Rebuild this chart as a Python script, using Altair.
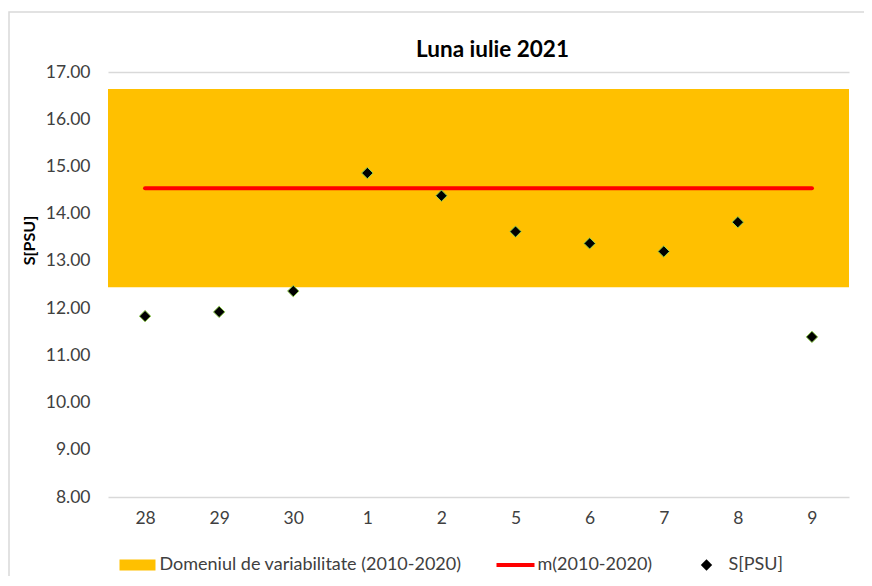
import altair as alt
import pandas as pd

# ---- data ----
days = ["28", "29", "30", "1", "2", "5", "6", "7", "8", "9"]
salinity = [11.83, 11.92, 12.36, 14.86, 14.38, 13.62, 13.37, 13.20, 13.82, 11.39]
mean_2010_2020 = [14.54, 14.54, 14.54, 14.54, 14.54, 14.54, 14.54, 14.54, 14.54, 14.54]
band_low = [12.44]
band_high = [16.64]

series_names = ["Domeniul de variabilitate (2010-2020)", "m(2010-2020)", "S[PSU]"]
series_colors = ["#FFC000", "#FF0000", "#000000"]
series_shapes = [
    "M-0.947,-0.29H0.947V0.29H-0.947Z",
    "M-1,-0.105H1V0.105H-1Z",
    "M0,-0.3L0.3,0L0,0.3L-0.3,0Z",
]

FONT = "Lato"

df = pd.DataFrame({"day": days, "s": salinity, "mean": mean_2010_2020, "series": "S[PSU]"})
band_df = pd.DataFrame({"lo": band_low, "hi": band_high})

y_scale = alt.Scale(domain=[8, 17], nice=False, zero=False)
x_enc = alt.X(
    "day:N",
    sort=days,
    scale=alt.Scale(padding=0.5),
    axis=alt.Axis(
        title=None, ticks=False, domain=False, labelAngle=0, grid=False,
        labelFont=FONT, labelFontSize=17.5, labelColor="#404040", labelPadding=12,
    ),
)

frame = alt.Chart(alt.Data(values=[{"f": 1}])).mark_rect(
    fillOpacity=0, stroke="#d9d9d9", strokeWidth=1.5
).encode(
    x=alt.value(-99), x2=alt.value(800), y=alt.value(-60), y2=alt.value(560)
)

band = alt.Chart(band_df).mark_rect(color="#FFC000").encode(
    y=alt.Y(
        "lo:Q",
        scale=y_scale,
        axis=alt.Axis(
            values=list(range(8, 18)), format=".2f", ticks=False, domain=False,
            grid=True, gridColor="#d9d9d9", gridWidth=1.5,
            gridOpacity={"condition": {"test": "datum.value == 17 || datum.value == 8", "value": 1}, "value": 0},
            labelFont=FONT, labelFontSize=17.5, labelColor="#404040", labelPadding=18,
            title="S[PSU]", titleFont=FONT, titleFontSize=16, titleFontWeight="bold",
            titleColor="#000000", titleX=-79, titleY=168, titleAngle=270,
            titleAlign="center", titleBaseline="middle",
        ),
    ),
    y2="hi:Q",
)

mean_line = alt.Chart(df).mark_line(
    color="#FF0000", strokeWidth=4, strokeCap="round"
).encode(x=x_enc, y=alt.Y("mean:Q", scale=y_scale))

points = alt.Chart(df).mark_point(
    filled=True, size=1444, stroke="#92D050", strokeWidth=1, opacity=1
).encode(
    x=x_enc,
    y=alt.Y("s:Q", scale=y_scale),
    color=alt.Color(
        "series:N",
        scale=alt.Scale(domain=series_names, range=series_colors),
        title=None,
        legend=alt.Legend(
            orient="none", legendX=10.5, legendY=474, direction="horizontal",
            symbolSize=1444, labelFont=FONT, labelFontSize=18, labelColor="#404040",
            labelOffset=3, columnPadding=35, padding=0, symbolStrokeWidth=0,
            labelLimit=500,
        ),
    ),
    shape=alt.Shape(
        "series:N",
        scale=alt.Scale(domain=series_names, range=series_shapes),
        title=None,
    ),
)

chart = alt.layer(frame, band, mean_line, points).properties(
    width=741,
    height=425,
    autosize=alt.AutoSizeParams(type="none"),
    padding={"left": 100, "top": 64, "right": 15, "bottom": 79},
    title=alt.TitleParams(
        "Luna iulie 2021", font=FONT, fontSize=22.5, fontWeight="bold",
        color="#000000", anchor="middle", dx=14, dy=64, offset=14, frame="group",
    ),
).configure_view(strokeWidth=0)

chart.save("out.html", embed_options={"renderer": "svg", "actions": False})
